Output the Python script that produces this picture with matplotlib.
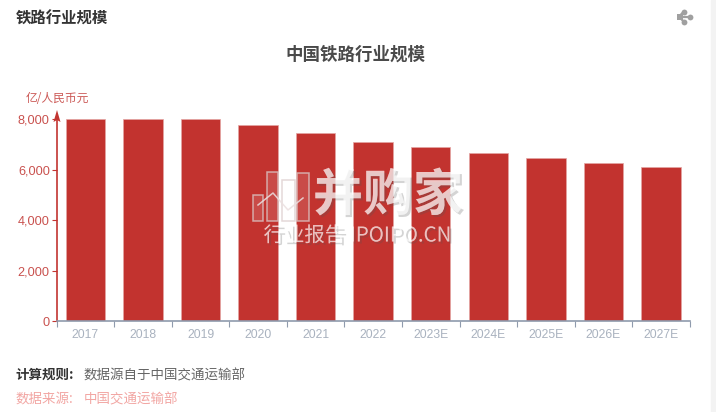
import matplotlib
matplotlib.use("Agg")
import matplotlib.pyplot as plt
import matplotlib.patheffects as pe
from matplotlib.patches import Rectangle, Polygon
from matplotlib.lines import Line2D

plt.rcParams['font.family'] = ['Noto Sans CJK SC', 'DejaVu Sans']

categories = ['2017', '2018', '2019', '2020', '2021', '2022', '2023E', '2024E', '2025E', '2026E', '2027E']
values = [8000, 8010, 8010, 7800, 7470, 7090, 6890, 6680, 6480, 6290, 6100]
y_ticks = [0, 2000, 4000, 6000, 8000]

W, H = 716, 412
fig = plt.figure(figsize=(W / 100, H / 100), dpi=100, facecolor='white')

def fx(x): return x / W
def fy(y): return 1 - y / H

# page strip on the right
fig.patches.append(Rectangle((fx(711), 0), 5 / W, 1, transform=fig.transFigure, color='#f3f3f3', zorder=0))

L, R, B, T = 56.7, 689.7, 321, 119.5
ax = fig.add_axes([fx(L), fy(B), (R - L) / W, (B - T) / H])
ax.patch.set_alpha(0)
ax.bar(range(len(values)), values, width=0.685, color='#c2332f', edgecolor='#e3a5a3', linewidth=0.5, zorder=2)
ax.set_xlim(-0.5, len(values) - 0.5)
ax.set_ylim(0, 8000)
for s in ['top', 'right']:
    ax.spines[s].set_visible(False)
ax.spines['bottom'].set_color('#8f9bad')
ax.spines['bottom'].set_linewidth(1.2)
ax.spines['left'].set_color('#c23531')
ax.spines['left'].set_linewidth(1.2)
ax.set_yticks(y_ticks)
ax.set_yticklabels([f'{v:,}' for v in y_ticks], fontsize=9.2, color='#c9514e', family=['Liberation Sans'])
ax.tick_params(axis='y', length=3.5, width=0.8, color='#c23531', pad=1.5)
ax.set_xticks([i - 0.5 for i in range(len(values) + 1)], minor=True)
ax.set_xticks(range(len(values)))
ax.set_xticklabels(categories, fontsize=8.7, color='#a9b2bf', family=['Liberation Sans'])
ax.tick_params(axis='x', which='major', length=0, pad=5.5)
ax.tick_params(axis='x', which='minor', length=4, width=0.8, color='#8f9bad')

# y axis arrow
fig.add_artist(Polygon([(fx(53.5), fy(122)), (fx(57), fy(110)), (fx(60.5), fy(122)), (fx(57), fy(120))],
                       closed=True, facecolor='#c23531', edgecolor='none', transform=fig.transFigure, zorder=5))
fig.text(fx(26), fy(98), '亿/人民币元', fontsize=8.5, color='#cc5a57', ha='left', va='center')

fig.text(fx(16), fy(19), '铁路行业规模', fontsize=11.1, fontweight='bold', color='#333333', ha='left', va='center')
fig.text(fx(355.5), fy(55), '中国铁路行业规模', fontsize=12.6, fontweight='bold', color='#4a4a4a', ha='center', va='center')
fig.text(fx(15.5), fy(375), '计算规则:', fontsize=9.7, fontweight='bold', color='#333333', ha='left', va='center')
fig.text(fx(84), fy(375), '数据源自于中国交通运输部', fontsize=9.7, color='#666666', ha='left', va='center')
fig.text(fx(16), fy(399), '数据来源:', fontsize=9.7, color='#f2a6a3', ha='left', va='center')
fig.text(fx(84), fy(399), '中国交通运输部', fontsize=9.7, color='#f2a6a3', ha='left', va='center')

# share icon
icon = '#a0a0a0'
for (a, b) in [(684, 11.5), (689.5, 16.5), (684, 22)]:
    fig.add_artist(Line2D([fx(679), fx(a)], [fy(16.5), fy(b)], color=icon, lw=1.6, transform=fig.transFigure, zorder=5))
    fig.add_artist(Line2D([fx(a)], [fy(b)], marker='o', markersize=4.2, color=icon, markeredgewidth=0,
                          transform=fig.transFigure, zorder=5))
fig.add_artist(Line2D([fx(679.5)], [fy(16.5)], marker='s', markersize=4.6, color=icon, markeredgewidth=0,
                      transform=fig.transFigure, zorder=5))

# watermark
shadow = [pe.withSimplePatchShadow(offset=(1.5, -1.5), shadow_rgbFace='#555555', alpha=0.25), pe.Normal()]
fig.text(fx(388), fy(196), '并购家', fontsize=36, fontweight='bold', color=(1, 1, 1, 0.48), ha='center', va='center',
         zorder=6, path_effects=shadow)
fig.text(fx(357), fy(236), '行业报告 IPOIPO.CN', fontsize=14.7, fontweight='light', color=(1, 1, 1, 0.45), ha='center', va='center',
         zorder=6, path_effects=shadow)
for (a, b, top) in [(253, 263, 195), (267, 278, 172), (282, 295, 180), (297, 309, 173)]:
    fig.add_artist(Rectangle((fx(a), fy(221)), (b - a) / W, (221 - top) / H, transform=fig.transFigure,
                             facecolor=(1, 1, 1, 0.12), edgecolor=(0.86, 0.8, 0.8, 0.75), lw=1.1, zorder=6))
fig.add_artist(Line2D([fx(v) for v in (258, 273, 288, 303)], [fy(v) for v in (205, 193, 210, 198)],
                      color=(0.92, 0.88, 0.88, 0.85), lw=1.1, transform=fig.transFigure, zorder=6))

fig.savefig('out.png', dpi=100, facecolor='white')
